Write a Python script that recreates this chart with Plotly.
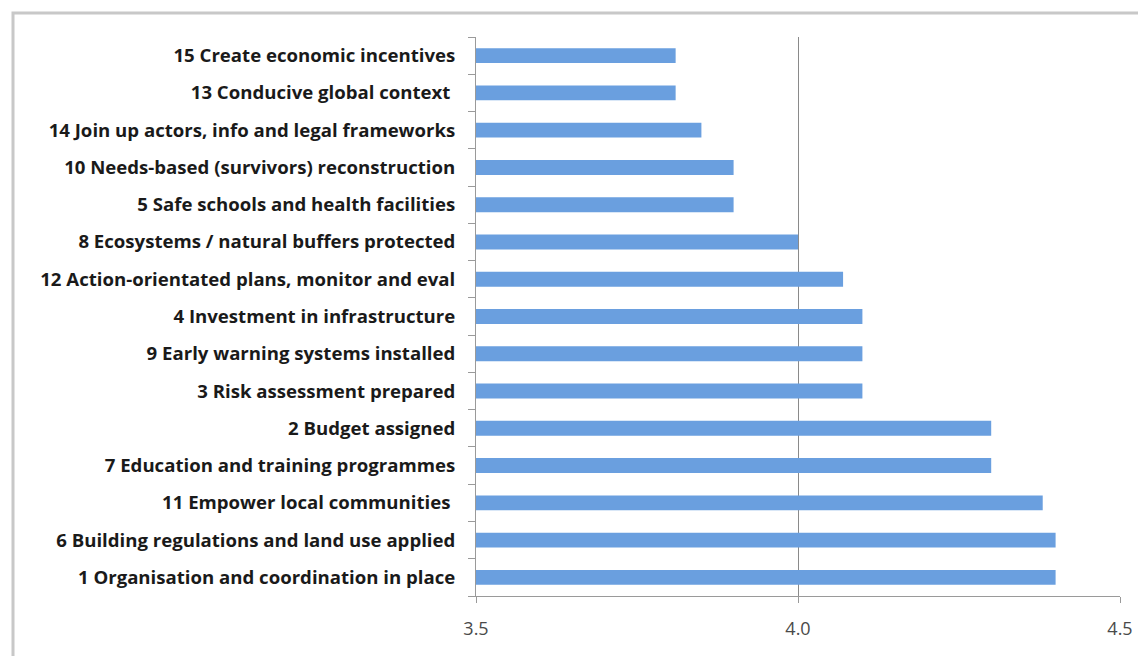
import plotly.graph_objects as go

categories = [
    "1 Organisation and coordination in place",
    "6 Building regulations and land use applied",
    "11 Empower local communities ",
    "7 Education and training programmes",
    "2 Budget assigned",
    "3 Risk assessment prepared",
    "9 Early warning systems installed",
    "4 Investment in infrastructure",
    "12 Action-orientated plans, monitor and eval",
    "8 Ecosystems / natural buffers protected",
    "5 Safe schools and health facilities",
    "10 Needs-based (survivors) reconstruction",
    "14 Join up actors, info and legal frameworks",
    "13 Conducive global context ",
    "15 Create economic incentives",
]
values = [4.40, 4.40, 4.38, 4.30, 4.30, 4.10, 4.10, 4.10, 4.07, 4.00, 3.90, 3.90, 3.85, 3.81, 3.81]
x_ticks = [3.5, 4.0, 4.5]
x_tick_labels = ["3.5", "4.0", "4.5"]
x_min = 3.5

OFF = 8  # page body margin
W, H = 1146 - OFF, 656 - OFF
ml, mt = 476 - OFF, 37 - OFF
pw, ph = 644, 559
mr = W - ml - pw
mb = H - mt - ph

fig = go.Figure(go.Bar(
    x=[v - x_min for v in values], y=categories, orientation="h",
    width=0.4,
    base=x_min,
    marker=dict(color="#6a9fdf", line=dict(width=0)),
    hovertext=[f"{v:.2f}" for v in values],
))

fig.update_layout(
    width=W, height=H,
    margin=dict(l=ml, r=mr, t=mt, b=mb),
    paper_bgcolor="white", plot_bgcolor="white",
    showlegend=False,
    xaxis=dict(
        range=[3.5, 4.5], tickvals=x_ticks, ticktext=x_tick_labels,
        showgrid=True, gridcolor="#8a8a8a", gridwidth=1,
        showline=True, linecolor="#9a9a9a", linewidth=1,
        ticks="outside", ticklen=6, tickcolor="#9a9a9a",
        tickfont=dict(family="Open Sans", size=18, color="#4a4a4a"),
        zeroline=False, ticklabelstandoff=10,
    ),
    yaxis=dict(
        categoryorder="array", categoryarray=categories,
        showline=True, linecolor="#9a9a9a", linewidth=1,
        ticks="outside", ticklen=7, tickcolor="#9a9a9a", tickson="boundaries",
        tickfont=dict(family="Open Sans", size=18.6, color="#1a1a1a", weight=700),
        ticklabelstandoff=16,
        range=[-0.5, len(categories) - 0.5],
        showgrid=False,
    ),
    shapes=[dict(
        type="rect", xref="paper", yref="paper",
        x0=(13 - OFF - ml) / pw, x1=(1160 - OFF - ml) / pw,
        y0=(H - mb - (670 - OFF)) / ph, y1=(H - mb - (13 - OFF)) / ph,
        line=dict(color="#c8c8c8", width=3), fillcolor="rgba(0,0,0,0)",
        layer="below",
    )],
)

fig.write_html("out.html")
